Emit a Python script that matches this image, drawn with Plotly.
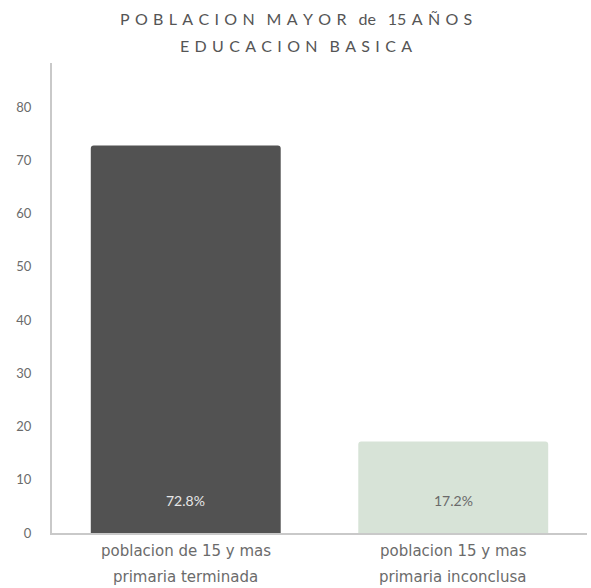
import plotly.graph_objects as go

# Población de 15 años y más según nivel de educación básica
categorias = ["primaria terminada", "primaria inconclusa"]
lineas_superiores = ["poblacion de 15 y mas", "poblacion 15 y mas"]
porcentajes = [72.8, 17.2]
etiquetas = ["72.8%", "17.2%"]
colores = ["#525252", "#d7e3d7"]
colores_texto = ["#e6e6e6", "#6a6a6a"]
marcas_y = [0, 10, 20, 30, 40, 50, 60, 70, 80]
titulo = ["POBLACION MAYOR de 15AÑOS", "EDUCACION BASICA"]

fuente = "Lato, 'Open Sans', sans-serif"
fuente_ancha = "'DejaVu Sans', sans-serif"
gris = "#6b6b6b"

ESP_LETRA = "\u2004"
ESP_PALABRA = "\u2002\u2005"


def espaciar(texto):
    # separa las letras mayúsculas; minúsculas y cifras quedan juntas
    palabras = []
    for p in texto.split(" "):
        out = ""
        for i, c in enumerate(p):
            if i > 0 and c.isupper():
                out += ESP_LETRA
            out += c
        palabras.append(out)
    return ESP_PALABRA.join(palabras)


fig = go.Figure(
    go.Bar(
        x=categorias,
        y=porcentajes,
        marker=dict(color=colores, line=dict(width=0), cornerradius=3),
        width=0.71,
        hoverinfo="skip",
    )
)

# Etiquetas de valor junto a la base de cada barra
for cat, lab, col in zip(categorias, etiquetas, colores_texto):
    fig.add_annotation(
        x=cat, y=0, xref="x", yref="y", text=lab, showarrow=False,
        yshift=33, font=dict(family=fuente, size=14, color=col),
    )

# Etiquetas de categoría en dos renglones
for cat, sup in zip(categorias, lineas_superiores):
    for texto, dy in ((sup, -18), (cat, -44)):
        fig.add_annotation(
            x=cat, y=0, xref="x", yref="paper", text=texto, showarrow=False,
            yanchor="middle", yshift=dy,
            font=dict(family=fuente_ancha, size=15, color=gris),
        )

# Título en dos renglones, letras espaciadas
for texto, ypix in zip(titulo, (18, 45)):
    fig.add_annotation(
        x=(296 - 52) / 535, xref="paper", y=(533 - ypix) / 470, yref="paper",
        text=espaciar(texto), showarrow=False, yanchor="middle",
        font=dict(family=fuente, size=16, color="#555555"),
    )

fig.update_layout(
    width=591, height=588,
    margin=dict(l=52, r=4, t=63, b=55),
    paper_bgcolor="white", plot_bgcolor="white",
    showlegend=False,
    font=dict(family=fuente, color=gris),
)

fig.update_xaxes(
    showline=True, linecolor="#c9c9c9", linewidth=2,
    showgrid=False, ticks="", zeroline=False, showticklabels=False,
)
fig.update_yaxes(
    range=[0, 88.3], tickvals=marcas_y,
    showline=True, linecolor="#c9c9c9", linewidth=2,
    showgrid=False, zeroline=False, ticks="",
    ticklabelstandoff=16,
    tickfont=dict(family=fuente, size=13, color=gris),
)

fig.write_html("out.html")
